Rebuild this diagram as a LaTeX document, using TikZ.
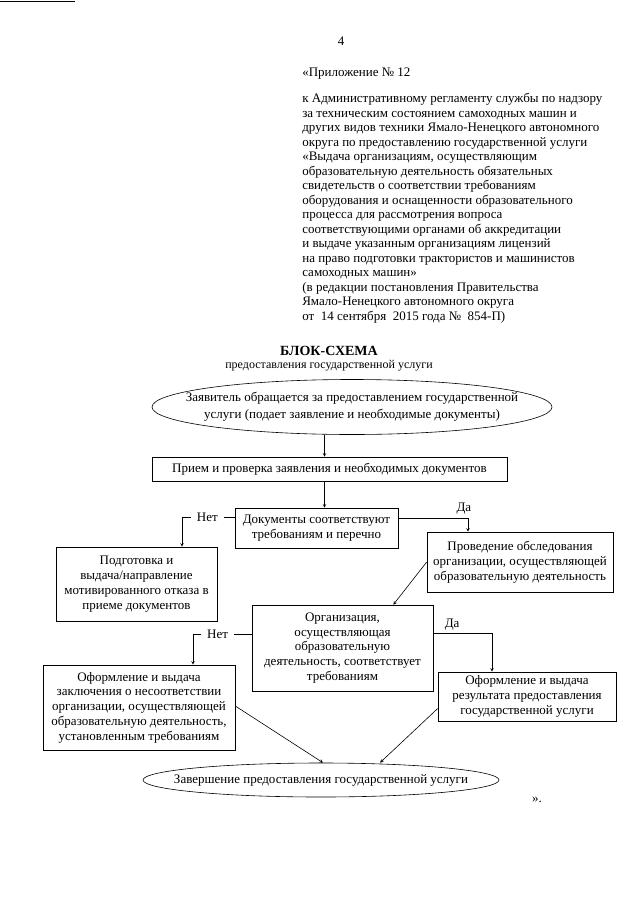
\documentclass[tikz,border=0pt]{standalone}
\usepackage{fontspec}
\setmainfont{Liberation Serif}
\usetikzlibrary{shapes.geometric}
\tikzset{
  box/.style={draw, rectangle, align=center, inner sep=2pt},
  oval/.style={draw, ellipse, inner sep=0pt},
  answer/.style={fill=white, inner xsep=6pt, inner ysep=1pt},
}

\begin{document}
\begin{tikzpicture}[x=1pt, y=-1pt, >=stealth, line width=0.6pt, font=\fontsize{13}{14.8}\selectfont]
\useasboundingbox (0,0) rectangle (640,905);
\draw[line width=1.5pt] (0,1.5) -- (75,1.5);

% шапка
\node (page) at (341,41) {4};
\node[anchor=west, inner sep=0pt] (appendix) at (302,74) {«Приложение №~12};
\node[anchor=north west, align=left, inner sep=0pt, font=\fontsize{13}{14.5}\selectfont] (header) at (302,93) {к Административному регламенту службы по надзору\\
за техническим состоянием самоходных машин и\\
других видов техники Ямало-Ненецкого автономного\\
округа по предоставлению государственной услуги\\
«Выдача организациям, осуществляющим\\
образовательную деятельность обязательных\\
свидетельств о соответствии требованиям\\
оборудования и оснащенности образовательного\\
процесса для рассмотрения вопроса\\
соответствующими органами об аккредитации\\
и выдаче указанным организациям лицензий\\
на право подготовки трактористов и машинистов\\
самоходных машин»\\
(в редакции постановления Правительства\\
Ямало-Ненецкого автономного округа\\
от~ 14 сентября~ 2015 года №~ 854-П)};

\node[font=\fontsize{14}{16}\bfseries] (title) at (329,351) {БЛОК-СХЕМА};
\node[font=\fontsize{12}{13.5}\selectfont] (subtitle) at (329,366) {предоставления государственной услуги};

% блоки
\node[oval, minimum width=400pt, minimum height=55pt] (start) at (352,407) {};
\node[align=center, font=\fontsize{13}{17}\selectfont] (start-text) at (start) {Заявитель обращается за предоставлением государственной\\ услуги (подает заявление и необходимые документы)};
\node[box, minimum width=355pt, minimum height=24pt] (priem) at (329.5,469) {Прием и проверка заявления и необходимых документов};
\node[box, minimum width=163pt, minimum height=40pt] (check) at (316.5,528) {Документы соответствуют\\ требованиям и перечно};
\node[box, minimum width=161pt, minimum height=74pt] (otkaz) at (136.5,584) {Подготовка и\\ выдача/направление\\ мотивированного отказа в\\ приеме документов};
\node[box, minimum width=186pt, minimum height=60pt] (survey) at (520,562) {Проведение обследования\\ организации, осуществляющей\\ образовательную деятельность};
\node[box, minimum width=181pt, minimum height=86pt] (decision) at (342.5,648) {Организация,\\ осуществляющая\\ образовательную\\ деятельность, соответствует\\ требованиям};
\node[box, minimum width=192pt, minimum height=85pt] (conclusion) at (139,707.5) {Оформление и выдача\\ заключения о несоответствии\\ организации, осуществляющей\\ образовательную деятельность,\\ установленным требованиям};
\node[box, minimum width=178pt, minimum height=49pt] (result) at (527,696.5) {Оформление и выдача\\ результата предоставления\\ государственной услуги};
\node[oval, minimum width=356pt, minimum height=34pt] (finish) at (321,780) {};
\node (finish-text) at (finish) {Завершение предоставления государственной услуги};
\node (close) at (537,800) {».};

% стрелки
\draw[->] ([xshift=-5pt]priem.north |- start.south) -- ([xshift=-5pt]priem.north);
\draw[->] ([xshift=-5pt]priem.south) -- ([xshift=-5pt]priem.south |- check.north);
\draw[->] ([yshift=11pt]check.west) -| node[answer, pos=0.26] {Нет} ([xshift=45.5pt]otkaz.north);
\draw[->] ([yshift=10pt]check.east) -| node[pos=0.47, above] {Да} ([xshift=-52pt]survey.north);
\draw[->] (survey.west) -- ([xshift=-40pt]decision.north east);
\draw[->] ([yshift=14pt]decision.west) -| node[answer, pos=0.29] {Нет} ([xshift=54pt]conclusion.north);
\draw[->] ([yshift=14.5pt]decision.east) -| node[pos=0.16, above] {Да} ([xshift=-35pt]result.north);
\draw[->] ([yshift=1.5pt]conclusion.east) -- ([xshift=2pt]finish.north);
\draw[->] ([yshift=-12pt]result.west) -- ([xshift=59pt]finish.north);

\end{tikzpicture}
\end{document}
